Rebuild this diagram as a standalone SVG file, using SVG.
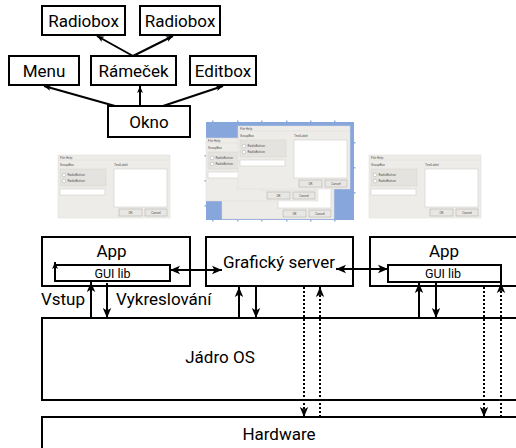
<svg xmlns="http://www.w3.org/2000/svg" width="516" height="448" viewBox="0 0 516 448">
<style>
.box{fill:#fff;stroke:#000;stroke-width:2}
.lbl{font-family:Roboto,"Liberation Sans",sans-serif;font-size:17px;fill:#000;text-anchor:middle}
.sm{font-size:12.5px}
.ln{stroke:#000;stroke-width:2;fill:none}
.dot{stroke:#000;stroke-width:2;fill:none;stroke-dasharray:2 2}
.wt{font-family:Roboto,"Liberation Sans",sans-serif;font-size:3.2px;fill:#555}
.wbg{fill:#eeece9;stroke:#dcdad6;stroke-width:0.5}
.wwh{fill:#fff;stroke:#c8c6c2;stroke-width:0.5}
.wgb{fill:#e5e3df;stroke:#d3d1cc;stroke-width:0.5}
.wbt{fill:#e9e7e4;stroke:#aaa8a4;stroke-width:0.5}
.tick{fill:#8fb0e4}
</style>
<defs>
<marker id="ah" markerUnits="userSpaceOnUse" markerWidth="10" markerHeight="10" viewBox="0 0 10 10" refX="10" refY="5" orient="auto-start-reverse">
<path d="M0,0.8 L10,5 L0,9.2 L2.5,5 z" fill="#000"/>
</marker>
<marker id="ahs" markerUnits="userSpaceOnUse" markerWidth="7" markerHeight="7" viewBox="0 0 10 10" refX="10" refY="5" orient="auto-start-reverse">
<path d="M0,0.8 L10,5 L0,9.2 L2.5,5 z" fill="#000"/>
</marker>
<g id="win">
<rect class="wbg" x="0" y="0" width="112" height="63"/>
<text class="wt" x="2" y="3.6">File  Help</text>
<line x1="0" y1="5" x2="112" y2="5" stroke="#dedcd8" stroke-width="0.5"/>
<text class="wt" x="2" y="11">GroupBox</text>
<rect class="wgb" x="2" y="14" width="46" height="17"/>
<circle cx="6" cy="20" r="1.8" fill="#fff" stroke="#999" stroke-width="0.4"/>
<circle cx="6" cy="26" r="1.8" fill="#fff" stroke="#999" stroke-width="0.4"/>
<text class="wt" x="9.5" y="21.2">RadioButton</text>
<text class="wt" x="9.5" y="27.2">RadioButton</text>
<rect class="wwh" x="2" y="34" width="45" height="6"/>
<text class="wt" x="56" y="11">TextLabel</text>
<rect class="wwh" x="56" y="14" width="53" height="38"/>
<rect class="wbt" x="61" y="54" width="23" height="7"/>
<text class="wt" x="72.5" y="58.6" text-anchor="middle">OK</text>
<rect class="wbt" x="87" y="54" width="22" height="7"/>
<text class="wt" x="98" y="58.6" text-anchor="middle">Cancel</text>
</g>
</defs>

<g id="radiobox1"><rect class="box" x="42" y="6" width="83" height="29"/><text class="lbl" x="83.5" y="26.5">Radiobox</text></g>
<g id="radiobox2"><rect class="box" x="140" y="6" width="80" height="29"/><text class="lbl" x="180" y="26.5">Radiobox</text></g>
<g id="menu"><rect class="box" x="9" y="56" width="70" height="29"/><text class="lbl" x="44" y="77">Menu</text></g>
<g id="ramecek"><rect class="box" x="91" y="56" width="85" height="29"/><text class="lbl" x="133.5" y="77">Rámeček</text></g>
<g id="editbox"><rect class="box" x="190" y="56" width="66" height="29"/><text class="lbl" x="223" y="77">Editbox</text></g>
<g id="okno"><rect class="box" x="108" y="106" width="82" height="31"/><text class="lbl" x="149" y="128">Okno</text></g>

<g id="screenshots">
<use href="#win" x="58" y="155"/>
<use href="#win" x="369" y="155"/>
<rect x="206" y="122" width="148" height="98" fill="#87a7dc"/>
<use href="#win" x="222" y="156"/>
<use href="#win" x="206" y="138"/>
<use href="#win" x="238" y="126"/>
<rect class="tick" x="212" y="120.5" width="1.5" height="1.5"/>
<rect class="tick" x="237" y="120.5" width="1.5" height="1.5"/>
<rect class="tick" x="261" y="120.5" width="1.5" height="1.5"/>
<rect class="tick" x="286" y="120.5" width="1.5" height="1.5"/>
<rect class="tick" x="310" y="120.5" width="1.5" height="1.5"/>
<rect class="tick" x="334" y="120.5" width="1.5" height="1.5"/>
<rect class="tick" x="212" y="220" width="1.5" height="1.5"/>
<rect class="tick" x="237" y="220" width="1.5" height="1.5"/>
<rect class="tick" x="261" y="220" width="1.5" height="1.5"/>
<rect class="tick" x="286" y="220" width="1.5" height="1.5"/>
<rect class="tick" x="310" y="220" width="1.5" height="1.5"/>
<rect class="tick" x="334" y="220" width="1.5" height="1.5"/>
<rect class="tick" x="354" y="142" width="1.5" height="1.5"/>
<rect class="tick" x="354" y="167" width="1.5" height="1.5"/>
<rect class="tick" x="354" y="192" width="1.5" height="1.5"/>
<rect class="tick" x="204.5" y="155" width="1.5" height="1.5"/>
<rect class="tick" x="204.5" y="180" width="1.5" height="1.5"/>
<rect class="tick" x="204.5" y="205" width="1.5" height="1.5"/>
</g>

<g id="kernel"><rect class="box" x="42" y="318" width="490" height="82"/><text class="lbl" x="220" y="363">Jádro OS</text></g>
<g id="hardware"><rect class="box" x="42" y="417" width="490" height="40"/><text class="lbl" x="279" y="440">Hardware</text></g>

<g id="app1"><rect class="box" x="42" y="237" width="148" height="49"/><text class="lbl" x="111.5" y="257">App</text></g>
<g id="guilib1"><rect class="box" x="55" y="265" width="115" height="16"/><text class="lbl sm" x="112.5" y="277.5">GUI lib</text></g>
<g id="server"><rect class="box" x="206" y="237" width="147" height="49"/><text class="lbl" x="279" y="268">Grafický server</text></g>
<g id="app2"><rect class="box" x="370" y="237" width="160" height="49"/><text class="lbl" x="444" y="257">App</text></g>
<g id="guilib2"><rect class="box" x="388" y="265" width="113" height="17"/><text class="lbl sm" x="443" y="278">GUI lib</text></g>

<g id="labels">
<text class="lbl" x="85" y="305" style="text-anchor:end">Vstup</text>
<text class="lbl" x="116" y="305" style="text-anchor:start">Vykreslování</text>
</g>

<g id="connectors">
<line class="ln" x1="140" y1="106" x2="140" y2="86" marker-end="url(#ahs)"/>
<line class="ln" x1="115" y1="106" x2="44" y2="86" marker-end="url(#ahs)"/>
<line class="ln" x1="163" y1="106" x2="223" y2="86" marker-end="url(#ahs)"/>
<line class="ln" x1="133" y1="56" x2="97" y2="36" marker-end="url(#ahs)"/>
<line class="ln" x1="133" y1="56" x2="173" y2="36" marker-end="url(#ahs)"/>
<line class="ln" x1="55" y1="281" x2="55" y2="262" marker-end="url(#ahs)"/>
<line class="ln" x1="170" y1="270" x2="222" y2="270" marker-start="url(#ah)" marker-end="url(#ah)"/>
<line class="ln" x1="336" y1="269" x2="388" y2="269" marker-start="url(#ah)" marker-end="url(#ah)"/>
<line class="ln" x1="91" y1="318" x2="91" y2="282" marker-end="url(#ah)"/>
<line class="ln" x1="107" y1="283" x2="107" y2="318" marker-end="url(#ah)"/>
<line class="ln" x1="239" y1="318" x2="239" y2="287" marker-end="url(#ah)"/>
<line class="ln" x1="256" y1="287" x2="256" y2="318" marker-end="url(#ah)"/>
<line class="ln" x1="419" y1="318" x2="419" y2="283" marker-end="url(#ah)"/>
<line class="ln" x1="436" y1="283" x2="436" y2="318" marker-end="url(#ah)"/>
<line class="dot" x1="304" y1="287" x2="304" y2="417" marker-end="url(#ah)"/>
<line class="dot" x1="320" y1="417" x2="320" y2="287" marker-end="url(#ah)"/>
<line class="dot" x1="484" y1="287" x2="484" y2="417" marker-end="url(#ah)"/>
<line class="dot" x1="501" y1="417" x2="501" y2="283" marker-end="url(#ah)"/>
</g>
</svg>
